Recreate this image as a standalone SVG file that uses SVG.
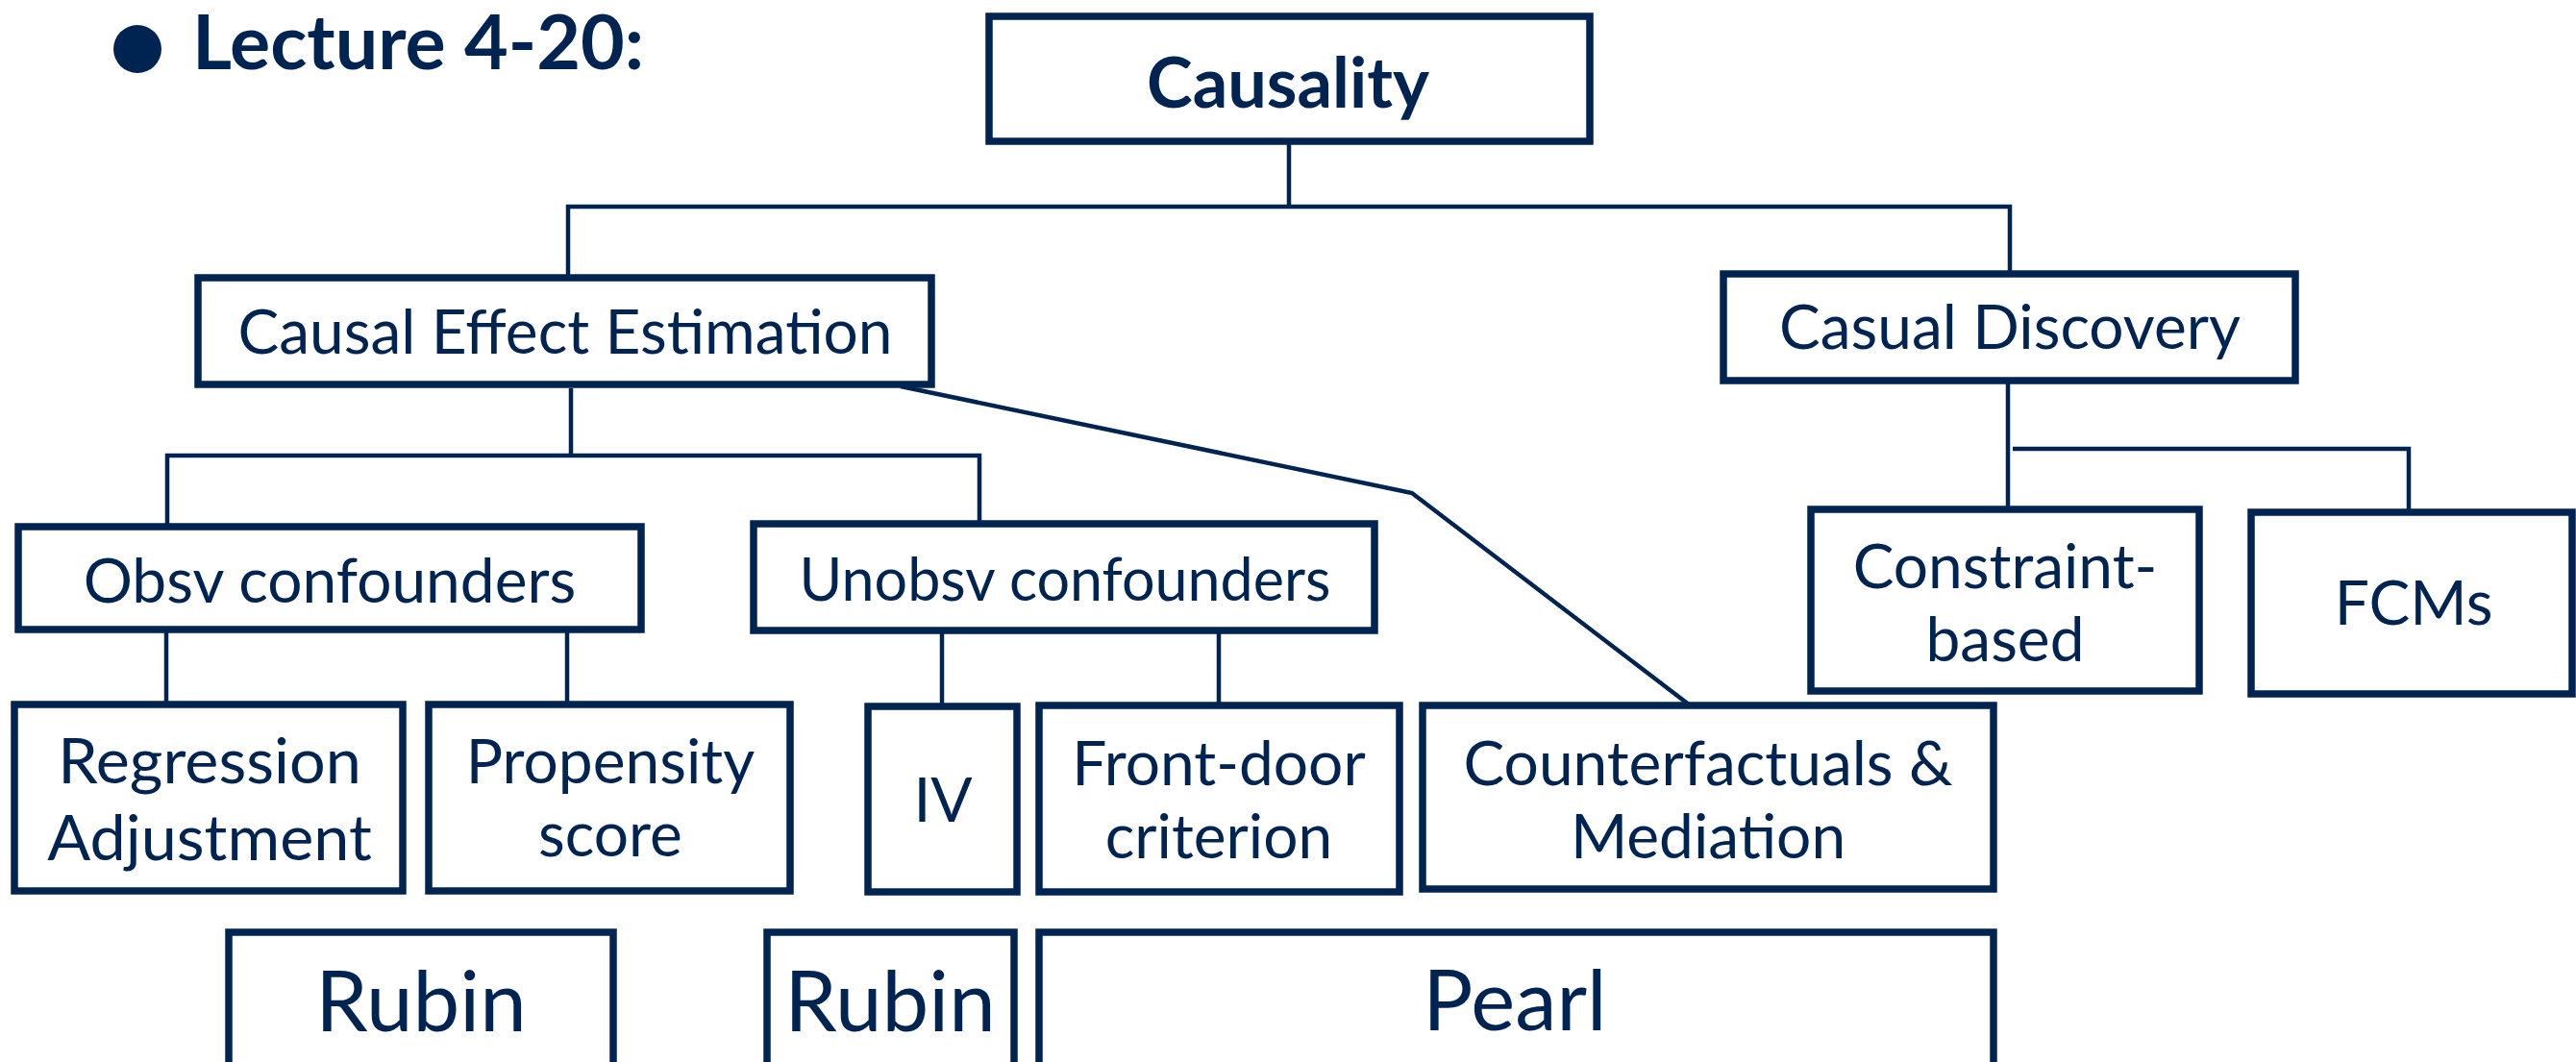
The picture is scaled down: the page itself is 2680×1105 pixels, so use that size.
<svg xmlns="http://www.w3.org/2000/svg" width="2680" height="1105" viewBox="0 0 2680 1105">
  <style>
    .box { fill: #ffffff; stroke: #002452; stroke-width: 7.5; }
    .line { fill: none; stroke: #002452; stroke-width: 4.5; }
    .lbl { font-family: Lato, "Liberation Sans", sans-serif; fill: #002452; text-anchor: middle; font-size: 64px; }
    .big { font-size: 87px; }
    .bold { font-weight: 700; font-size: 72px; }
  </style>
  <rect width="2680" height="1105" fill="#ffffff"/>

  <!-- heading -->
  <g id="heading">
    <circle cx="143" cy="51" r="25" fill="#002452"/>
    <text class="lbl bold" x="200" y="72" style="text-anchor:start;font-size:79px">Lecture 4-20:</text>
  </g>

  <!-- connectors -->
  <g id="connectors">
    <line class="line" x1="1341" y1="147" x2="1341" y2="215"/>
    <polyline class="line" points="591,289 591,215 2091,215 2091,285"/>
    <line class="line" x1="594" y1="404" x2="594" y2="474"/>
    <polyline class="line" points="174,547 174,474 1019,474 1019,545"/>
    <line class="line" x1="173" y1="657" x2="173" y2="731"/>
    <line class="line" x1="590" y1="657" x2="590" y2="731"/>
    <line class="line" x1="980" y1="659" x2="980" y2="732"/>
    <line class="line" x1="1268" y1="659" x2="1268" y2="732"/>
    <polyline class="line" points="937,402 1469,513 1757,733"/>
    <line class="line" x1="2089" y1="397" x2="2089" y2="530"/>
    <polyline class="line" points="2094,467 2506,467 2506,533"/>
  </g>

  <g id="causality">
    <rect class="box" x="1029" y="17" width="625" height="130"/>
    <text class="lbl bold" x="1340" y="112">Causality</text>
  </g>

  <g id="causal-effect-estimation">
    <rect class="box" x="206" y="289" width="763" height="111"/>
    <text class="lbl" x="588" y="368">Causal Effect Estimation</text>
  </g>

  <g id="casual-discovery">
    <rect class="box" x="1793" y="285" width="595" height="111"/>
    <text class="lbl" x="2091" y="363">Casual Discovery</text>
  </g>

  <g id="obsv-confounders">
    <rect class="box" x="19" y="548" width="648" height="107"/>
    <text class="lbl" x="343" y="627">Obsv confounders</text>
  </g>

  <g id="unobsv-confounders">
    <rect class="box" x="784" y="545" width="646" height="111"/>
    <text class="lbl" x="1108" y="625" style="font-size:61px">Unobsv confounders</text>
  </g>

  <g id="regression-adjustment">
    <rect class="box" x="15" y="733" width="404" height="194"/>
    <text class="lbl" x="218" y="815" style="font-size:66.5px">Regression</text>
    <text class="lbl" x="218" y="895" style="font-size:66.5px">Adjustment</text>
  </g>

  <g id="propensity-score">
    <rect class="box" x="446" y="733" width="376" height="194"/>
    <text class="lbl" x="635" y="815">Propensity</text>
    <text class="lbl" x="635" y="891">score</text>
  </g>

  <g id="iv">
    <rect class="box" x="903" y="735" width="155" height="193"/>
    <text class="lbl" x="981" y="855">IV</text>
  </g>

  <g id="front-door-criterion">
    <rect class="box" x="1081" y="734" width="375" height="194"/>
    <text class="lbl" x="1268" y="817">Front-door</text>
    <text class="lbl" x="1268" y="893">criterion</text>
  </g>

  <g id="counterfactuals-mediation">
    <rect class="box" x="1480" y="734" width="594" height="191"/>
    <text class="lbl" x="1777" y="817">Counterfactuals &amp;</text>
    <text class="lbl" x="1777" y="893">Mediation</text>
  </g>

  <g id="constraint-based">
    <rect class="box" x="1884" y="530" width="404" height="189"/>
    <text class="lbl" x="2086" y="612">Constraint-</text>
    <text class="lbl" x="2086" y="688">based</text>
  </g>

  <g id="fcms">
    <rect class="box" x="2342" y="533" width="334" height="189"/>
    <text class="lbl" x="2511" y="650">FCMs</text>
  </g>

  <g id="rubin-1">
    <rect class="box" x="238" y="970" width="400" height="160"/>
    <text class="lbl big" x="438" y="1073">Rubin</text>
  </g>

  <g id="rubin-2">
    <rect class="box" x="798" y="970" width="257" height="160"/>
    <text class="lbl big" x="926" y="1073">Rubin</text>
  </g>

  <g id="pearl">
    <rect class="box" x="1081" y="970" width="993" height="160"/>
    <text class="lbl big" x="1576" y="1072">Pearl</text>
  </g>
</svg>
